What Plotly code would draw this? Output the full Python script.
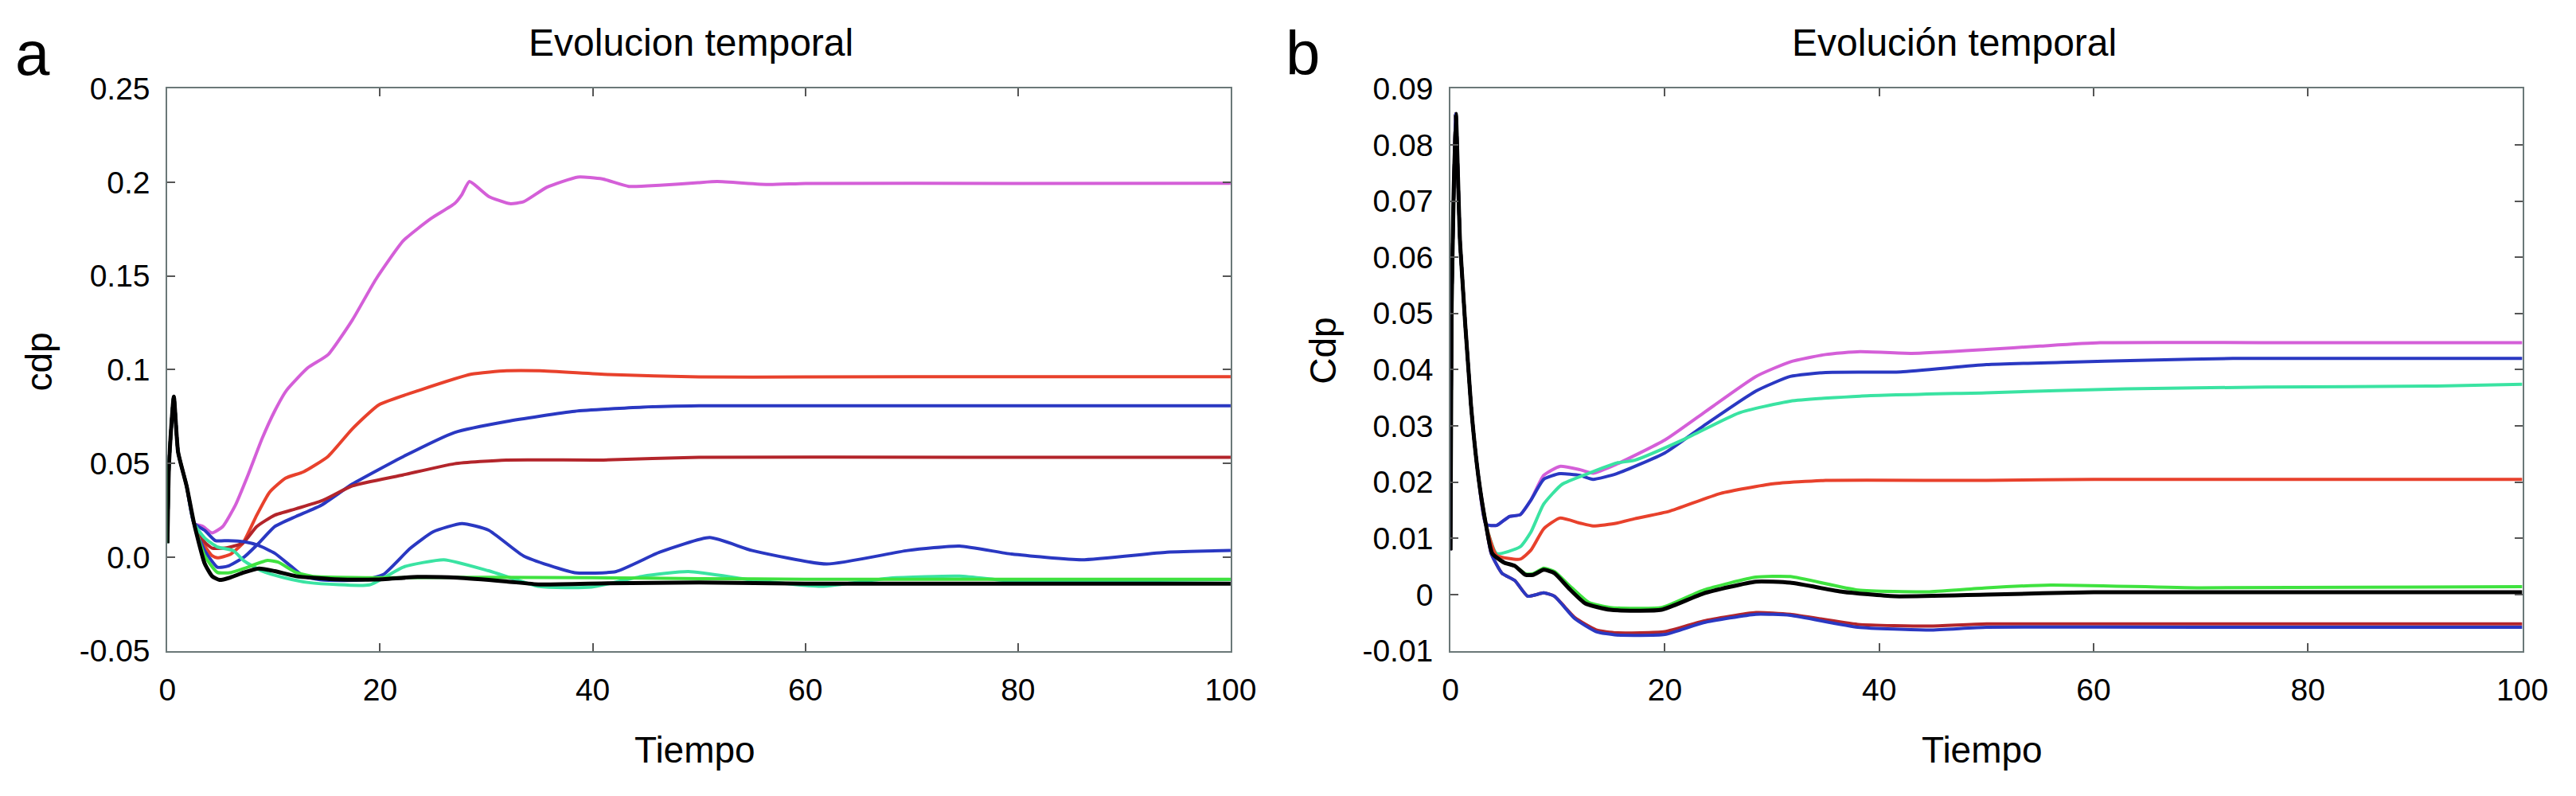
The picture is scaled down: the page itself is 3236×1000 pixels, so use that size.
import plotly.graph_objects as go

# ---------------- panel a (Evolucion temporal, cdp) ----------------
# tramo comun del pico inicial
t_a_inicio = [0, 0.15, 0.6, 1.0, 1.8, 2.5]
cdp_a_inicio = [0.0075, 0.05, 0.0856, 0.056, 0.038, 0.018]

t_a_magenta = [3.3, 4.2, 5.2, 6.4, 7.6, 8.9, 10.1, 11.2, 13.2, 15.1, 17.4, 19.6, 22.2, 24.8, 27.0,
               27.7, 28.4, 30.2, 32.2, 33.5, 35.7, 38.6, 40.9, 43.4, 46.3, 49.9, 51.7, 56.6, 60, 80, 100]
cdp_a_magenta = [0.0165, 0.0129, 0.0163, 0.0278, 0.0441, 0.0632, 0.0781, 0.089, 0.101, 0.108, 0.1266,
                 0.1482, 0.1689, 0.1807, 0.1886, 0.1935, 0.2004, 0.1925, 0.1886, 0.1896, 0.1974,
                 0.2028, 0.2018, 0.1978, 0.1984, 0.1998, 0.2004, 0.1988, 0.1994, 0.1994, 0.1995]

t_a_rojo = [3.5, 4.2, 4.7, 5.9, 7.1, 8.4, 9.6, 11.1, 12.8, 15.1, 17.4, 19.9, 23.8, 28.6, 31.9, 35,
            41.5, 50, 60, 80, 100]
cdp_a_rojo = [0.006, 0.0007, -0.0004, 0.0014, 0.0075, 0.0224, 0.0346, 0.0421, 0.0455, 0.0537, 0.0685,
              0.0813, 0.0892, 0.0976, 0.0994, 0.0994, 0.0974, 0.0961, 0.0961, 0.0963, 0.0963]

t_a_azul = [3.5, 4.7, 5.7, 7.2, 8.6, 10.1, 12.1, 14.5, 17.4, 22.2, 27, 31.9, 38.3, 44.7, 50, 75, 100]
cdp_a_azul = [0.0034, -0.0054, -0.0048, 0.0, 0.0075, 0.0163, 0.0217, 0.0278, 0.039, 0.0537, 0.0665,
              0.0724, 0.0778, 0.08, 0.0807, 0.0807, 0.0807]

t_a_granate = [3.5, 4.2, 5.4, 7.1, 8.4, 10.1, 12.1, 14.5, 17.4, 22.2, 27, 31.9, 41, 50, 75, 100]
cdp_a_granate = [0.008, 0.0048, 0.0048, 0.0075, 0.0163, 0.0224, 0.0258, 0.0300, 0.038, 0.0439, 0.0498,
                 0.0518, 0.0518, 0.0533, 0.0533, 0.0533]

t_a_azul2 = [3.5, 4.5, 5.7, 7.2, 8.6, 10.1, 11.6, 12.8, 14.5, 18.3, 20.3, 22.8, 25, 27.7, 30.2, 33.5,
             38.3, 42.2, 46.3, 51, 55, 62, 69.6, 74.5, 79.4, 86, 94, 100]
cdp_a_azul2 = [0.0143, 0.0088, 0.0088, 0.0082, 0.0061, 0.002, -0.0048, -0.0102, -0.0122, -0.0122,
               -0.0093, 0.0045, 0.0135, 0.0179, 0.0144, 0.0006, -0.0083, -0.0077, 0.0026, 0.0104,
               0.0035, -0.0037, 0.0035, 0.0059, 0.0016, -0.0014, 0.0026, 0.0035]

t_a_turquesa = [3.5, 4.7, 6.2, 7.2, 8.9, 10.9, 13.3, 19, 22.2, 26, 30.2, 35, 39.9, 44.7, 49, 55, 61.5,
                68, 74.5, 79.4, 86, 100]
cdp_a_turquesa = [0.0102, 0.0054, 0.0034, -0.002, -0.0075, -0.0109, -0.0136, -0.0148, -0.0053, -0.0014,
                  -0.0073, -0.0157, -0.016, -0.0102, -0.0077, -0.0122, -0.0156, -0.0112, -0.0102,
                  -0.0128, -0.0128, -0.012]

t_a_verde = [3.5, 4.7, 6.0, 7.2, 9.4, 10.4, 12.1, 13.6, 20, 30, 40, 50, 60, 100]
cdp_a_verde = [0.0007, -0.0082, -0.0082, -0.0061, -0.0018, -0.0027, -0.0082, -0.0102, -0.011, -0.0108,
               -0.011, -0.0115, -0.0118, -0.0118]

t_a_negro = [3.5, 4.2, 4.9, 5.9, 7.2, 8.6, 10.1, 12.1, 15.7, 19.6, 23.5, 27.3, 31.9, 35, 41.5, 50, 60, 100]
cdp_a_negro = [-0.0034, -0.0102, -0.0122, -0.0109, -0.0082, -0.0061, -0.0075, -0.0102, -0.0118, -0.012,
               -0.0106, -0.011, -0.013, -0.0146, -0.014, -0.0136, -0.0142, -0.0142]

# ---------------- panel b (Evolución temporal, Cdp) ----------------
t_b_inicio = [0, 0.1, 0.5, 0.9, 1.9, 2.6, 3.3]
cdp_b_inicio = [0.0079, 0.05, 0.0855, 0.0623, 0.034, 0.021, 0.0125]

t_b_magenta = [4.3, 5.5, 6.5, 7.5, 8.7, 10.2, 12.1, 13.3, 15.5, 20, 23.6, 28.5, 31.7, 35, 38.2, 43, 50,
               55, 60.6, 80, 100]
cdp_b_magenta = [0.0123, 0.0139, 0.0142, 0.0168, 0.0212, 0.0228, 0.0222, 0.0216, 0.0232, 0.0275, 0.0323,
                 0.0388, 0.0414, 0.0427, 0.0432, 0.0429, 0.0436, 0.0442, 0.0448, 0.0448, 0.0448]

t_b_azul = [4.3, 5.5, 6.5, 7.5, 8.7, 10.2, 12.1, 13.3, 15.5, 20, 23.6, 28.5, 31.7, 35, 42, 50, 57, 65,
            73, 100]
cdp_b_azul = [0.0123, 0.0139, 0.0142, 0.0168, 0.0205, 0.0215, 0.0212, 0.0205, 0.0215, 0.0252, 0.030,
              0.0362, 0.0388, 0.0395, 0.0396, 0.0409, 0.0413, 0.0417, 0.042, 0.042]

t_b_turquesa = [4.3, 6.5, 7.5, 8.7, 10.4, 12.8, 15.5, 17.2, 22, 26.9, 31.7, 38.2, 50, 63, 76, 92, 100]
cdp_b_turquesa = [0.0073, 0.0085, 0.0111, 0.0161, 0.0196, 0.0215, 0.0234, 0.0239, 0.0278, 0.0323,
                  0.0344, 0.0353, 0.0359, 0.0366, 0.0369, 0.0371, 0.0374]

t_b_rojo = [4.3, 6.5, 7.5, 8.7, 10.2, 12.1, 13.3, 15.5, 17.2, 20.4, 25.2, 30.1, 35, 50, 60, 100]
cdp_b_rojo = [0.007, 0.0063, 0.0079, 0.0117, 0.0136, 0.0127, 0.0122, 0.0127, 0.0135, 0.0148, 0.018,
              0.0197, 0.0203, 0.0203, 0.0205, 0.0205]

t_b_verde = [3.9, 5.0, 6.0, 7.0, 7.7, 8.7, 9.7, 11.1, 12.9, 14.9, 19.7, 23.6, 28.5, 31.7, 38, 44.7, 50,
             56, 70, 100]
cdp_b_verde = [0.0073, 0.0057, 0.0051, 0.0037, 0.0037, 0.0047, 0.0041, 0.0016, -0.0014, -0.0023, -0.0023,
               0.0008, 0.0031, 0.0032, 0.0008, 0.0005, 0.0012, 0.0017, 0.0012, 0.0014]

t_b_negro = [3.9, 5.0, 6.0, 7.0, 7.7, 8.7, 9.7, 11.1, 12.6, 14.9, 19.7, 23.6, 28.5, 31.7, 36.6, 41.4,
             50, 60, 100]
cdp_b_negro = [0.0073, 0.0057, 0.0051, 0.0035, 0.0035, 0.0044, 0.0038, 0.001, -0.0016, -0.0027, -0.0027,
               0.0002, 0.0023, 0.0021, 0.0005, -0.0003, 0.0, 0.0004, 0.0004]

t_b_granate = [3.8, 4.8, 6.0, 7.2, 8.7, 9.7, 11.6, 13.6, 15.5, 20, 23.6, 28.5, 31.7, 38, 44.7, 50, 100]
cdp_b_granate = [0.0073, 0.0038, 0.0025, -0.0003, 0.0003, -0.0003, -0.0041, -0.0063, -0.0068, -0.0066,
                 -0.0047, -0.0032, -0.0035, -0.0053, -0.0056, -0.0052, -0.0052]

t_b_azul2 = [3.8, 4.8, 6.0, 7.2, 8.7, 9.7, 11.6, 13.6, 15.5, 20, 23.6, 28.5, 31.7, 38, 44.7, 50, 70, 100]
cdp_b_azul2 = [0.0073, 0.0038, 0.0025, -0.0003, 0.0003, -0.0003, -0.0043, -0.0066, -0.0072, -0.0071,
               -0.005, -0.0035, -0.0037, -0.0058, -0.0063, -0.0058, -0.0058, -0.0058]

colores = {
    "magenta": "#d45fd8",
    "rojo": "#e8412c",
    "azul": "#2a38c2",
    "granate": "#b3252b",
    "turquesa": "#3ae3a2",
    "verde": "#3fe23f",
    "negro": "#000000",
}

series_a = [
    ("magenta", t_a_magenta, cdp_a_magenta),
    ("rojo", t_a_rojo, cdp_a_rojo),
    ("azul", t_a_azul, cdp_a_azul),
    ("granate", t_a_granate, cdp_a_granate),
    ("azul", t_a_azul2, cdp_a_azul2),
    ("turquesa", t_a_turquesa, cdp_a_turquesa),
    ("verde", t_a_verde, cdp_a_verde),
    ("negro", t_a_negro, cdp_a_negro),
]
series_b = [
    ("magenta", t_b_magenta, cdp_b_magenta),
    ("azul", t_b_azul, cdp_b_azul),
    ("turquesa", t_b_turquesa, cdp_b_turquesa),
    ("rojo", t_b_rojo, cdp_b_rojo),
    ("verde", t_b_verde, cdp_b_verde),
    ("granate", t_b_granate, cdp_b_granate),
    ("azul", t_b_azul2, cdp_b_azul2),
    ("negro", t_b_negro, cdp_b_negro),
]

fig = go.Figure()

for nombre, t, v in series_a:
    fig.add_trace(go.Scatter(
        x=t_a_inicio + t, y=cdp_a_inicio + v, mode="lines",
        line=dict(color=colores[nombre], width=5 if nombre == "negro" else 4,
                  shape="spline", smoothing=0.5),
        xaxis="x", yaxis="y", showlegend=False))

for nombre, t, v in series_b:
    fig.add_trace(go.Scatter(
        x=t_b_inicio + t, y=cdp_b_inicio + v, mode="lines",
        line=dict(color=colores[nombre], width=5 if nombre == "negro" else 4,
                  shape="spline", smoothing=0.5),
        xaxis="x2", yaxis="y2", showlegend=False))

fuente = "Liberation Sans, Arial, Helvetica, sans-serif"
color_marco = "#6b7878"

eje_comun = dict(showline=True, linecolor=color_marco, linewidth=2, mirror="ticks",
                 ticks="inside", ticklen=10, tickwidth=2, tickcolor="#555555",
                 showgrid=False, zeroline=False,
                 tickfont=dict(family=fuente, size=39, color="black"))

x_ticks = [0, 20, 40, 60, 80, 100]
ya_ticks = [-0.05, 0.0, 0.05, 0.1, 0.15, 0.2, 0.25]
ya_text = ["-0.05", "0.0", "0.05", "0.1", "0.15", "0.2", "0.25"]
yb_ticks = [-0.01, 0, 0.01, 0.02, 0.03, 0.04, 0.05, 0.06, 0.07, 0.08, 0.09]
yb_text = ["-0.01", "0", "0.01", "0.02", "0.03", "0.04", "0.05", "0.06", "0.07", "0.08", "0.09"]

fig.update_layout(
    width=3236, height=1000,
    margin=dict(l=0, r=0, t=0, b=0),
    paper_bgcolor="white", plot_bgcolor="white",
    font=dict(family=fuente, color="black"),
    xaxis=dict(domain=[0.05995, 0.47837], range=[0, 100], tickvals=x_ticks,
               ticklabelstandoff=14, anchor="y", **eje_comun),
    yaxis=dict(domain=[0.176, 0.914], range=[-0.05, 0.25], tickvals=ya_ticks, ticktext=ya_text,
               ticklabelstandoff=12, anchor="x", **eje_comun),
    xaxis2=dict(domain=[0.56489, 0.98671], range=[0, 100], tickvals=x_ticks,
                ticklabelstandoff=14, anchor="y2", **eje_comun),
    yaxis2=dict(domain=[0.176, 0.914], range=[-0.01, 0.09], tickvals=yb_ticks, ticktext=yb_text,
                ticklabelstandoff=12, anchor="x2", **eje_comun),
)

textos = [
    dict(text="a", x=0.0068, y=0.96, size=78, angle=0, xa="center"),
    dict(text="b", x=0.5068, y=0.96, size=78, angle=0, xa="center"),
    dict(text="Evolucion temporal", x=0.2015, y=0.974, size=48, angle=0, xa="left"),
    dict(text="Evolución temporal", x=0.6987, y=0.974, size=48, angle=0, xa="left"),
    dict(text="Tiempo", x=0.2676, y=0.046, size=46, angle=0, xa="center"),
    dict(text="Tiempo", x=0.7741, y=0.046, size=46, angle=0, xa="center"),
    dict(text="cdp", x=0.0093, y=0.555, size=46, angle=-90, xa="center"),
    dict(text="Cdp", x=0.5145, y=0.57, size=46, angle=-90, xa="center"),
]
for a in textos:
    fig.add_annotation(text=a["text"], x=a["x"], y=a["y"], xref="paper", yref="paper",
                       xanchor=a["xa"], yanchor="middle", textangle=a["angle"],
                       showarrow=False, font=dict(family=fuente, size=a["size"], color="black"))

fig.write_html("out.html")
